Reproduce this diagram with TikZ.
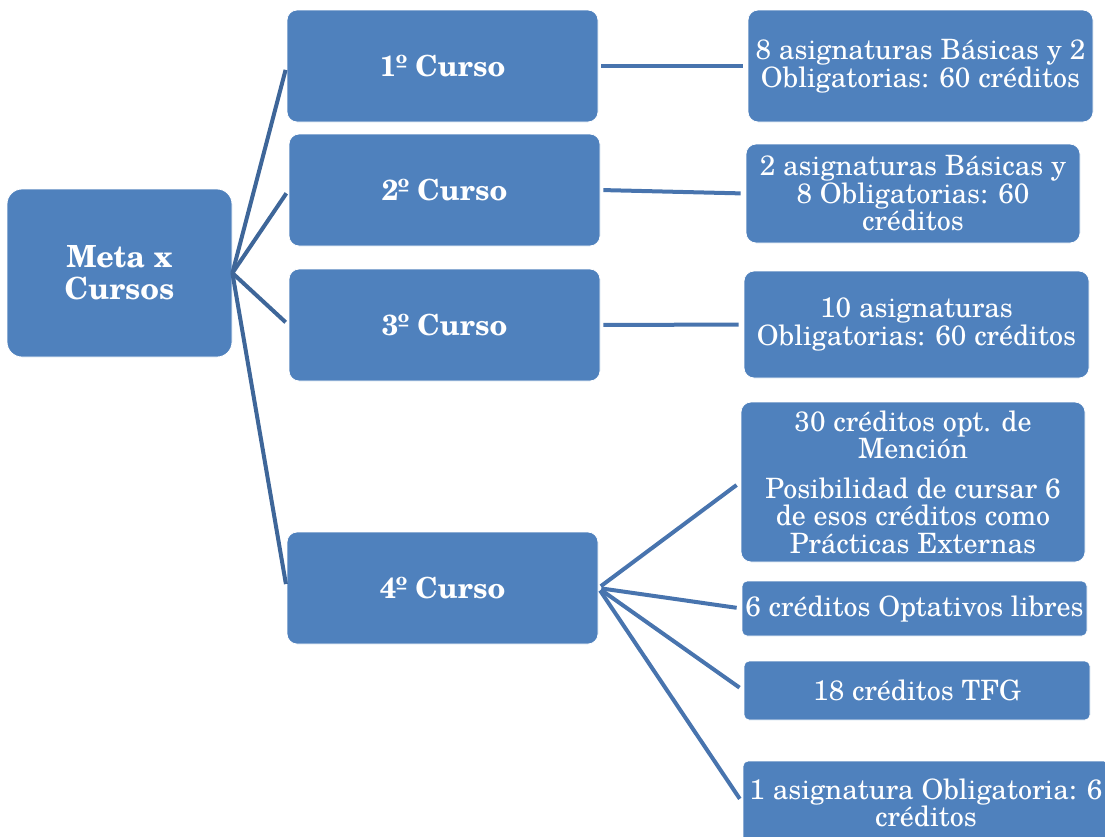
\documentclass[tikz,border=0pt]{standalone}
\usepackage{fontspec}
\setmainfont{TeX Gyre Schola}
\definecolor{boxblue}{HTML}{4F81BD}
\definecolor{rootlink}{HTML}{3E6699}
\definecolor{leaflink}{HTML}{4874AE}

\begin{document}
\begin{tikzpicture}[x=1pt,y=-1pt,
  box/.style={draw=white, line width=0.8pt, fill=boxblue, text=white,
              rounded corners=10pt, align=center, inner sep=0pt},
  rootbox/.style={box, rounded corners=15pt,
              font=\fontsize{30.5}{32}\selectfont\bfseries},
  course/.style={box, minimum width=311pt, minimum height=112pt,
              font=\fontsize{29}{30}\selectfont\bfseries},
  detail/.style={box, font=\fontsize{28}{27.5}\selectfont},
  flat/.style={rounded corners=5pt},
  rootedge/.style={draw=rootlink, line width=4pt, shorten >=4pt},
  leafedge/.style={draw=leaflink, line width=4pt, shorten <=3pt, shorten >=5pt}]
\useasboundingbox (0,0) rectangle (1105,836);

% root
\node[rootbox, minimum width=225pt, minimum height=168pt] (meta) at (119.5,273) {Meta x\\Cursos};

% courses
\node[course] (c1) at (442.5,66)  {1º Curso};
\node[course] (c2) at (444.5,190) {2º Curso};
\node[course] (c3) at (444.5,325) {3º Curso};
\node[course] (c4) at (442.5,588) {4º Curso};

% details per course
\node[detail, minimum width=345pt, minimum height=112pt] (r1) at (920.5,66)
  {8 asignaturas Básicas y 2\\Obligatorias: 60 créditos};
\node[detail, minimum width=334pt, minimum height=99pt] (r2) at (913,193.5)
  {2 asignaturas Básicas y\\8 Obligatorias: 60\\créditos};
\node[detail, minimum width=345pt, minimum height=107pt] (r3) at (916.5,324.5)
  {10 asignaturas\\Obligatorias: 60 créditos};
\node[detail, minimum width=344pt, minimum height=160pt] (r4) at (913,482)
  {30 créditos opt. de\\Mención\\[12pt]Posibilidad de cursar 6\\de esos créditos como\\Prácticas Externas};
\node[detail, flat, minimum width=345pt, minimum height=55pt] (r5) at (914.5,608.5)
  {6 créditos Optativos libres};
\node[detail, flat, minimum width=346pt, minimum height=59pt] (r6) at (917,690.5)
  {18 créditos TFG};
\node[detail, flat, minimum width=366pt, minimum height=84pt] (r7) at (926,803)
  {1 asignatura Obligatoria: 6\\créditos};

% connectors
\foreach \c in {c1,c2,c3,c4}
  \draw[rootedge] (meta.east) -- (\c.west);
\draw[leafedge] (c1.east) -- (r1.west);
\draw[leafedge] (c2.east) -- (r2.west);
\draw[leafedge] (c3.east) -- (r3.west);
\foreach \r in {r4,r5,r6,r7}
  \draw[leafedge] (c4.east) -- (\r.west);
\end{tikzpicture}
\end{document}
